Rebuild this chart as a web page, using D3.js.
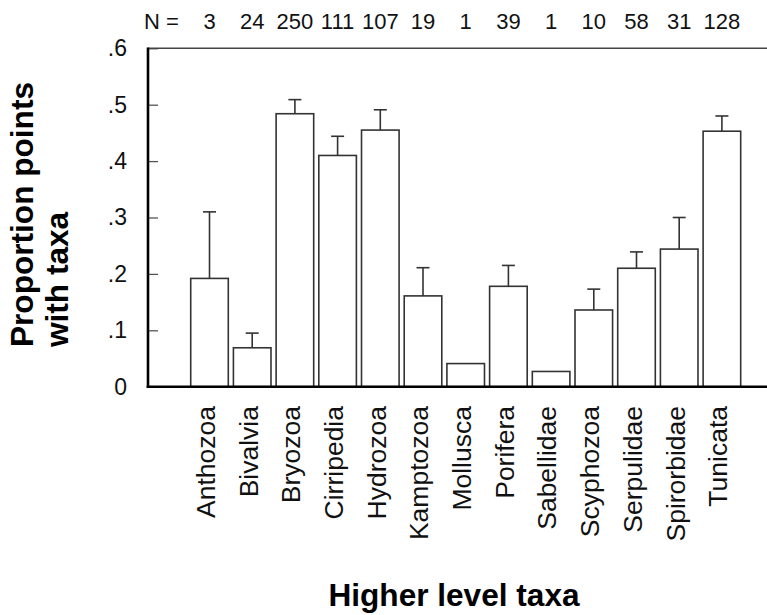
<!DOCTYPE html>
<html>
<head>
    <meta charset="utf-8">
    <script src="https://cdn.jsdelivr.net/npm/d3@7/dist/d3.min.js"></script>
    <style>
        body { margin: 0; background: #fff; }
        svg { font-family: Arial, "Liberation Sans", Helvetica, sans-serif; }
        .bar { fill: #fff; stroke: #333; stroke-width: 1.6px; }
        .err { stroke: #333; stroke-width: 1.6px; fill: none; }
        .title { font-weight: bold; font-size: 31.6px; fill: #000; }
    </style>
</head>
<body>
<div id="chart"></div>
<script>
    // values
    var taxa = ["Anthozoa", "Bivalvia", "Bryozoa", "Cirripedia", "Hydrozoa", "Kamptozoa",
        "Mollusca", "Porifera", "Sabellidae", "Scyphozoa", "Serpulidae", "Spirorbidae", "Tunicata"];
    var nCounts = [3, 24, 250, 111, 107, 19, 1, 39, 1, 10, 58, 31, 128];
    var proportion = [0.192, 0.069, 0.484, 0.410, 0.455, 0.161, 0.041, 0.178, 0.027, 0.136, 0.210, 0.244, 0.453];
    var upperError = [0.310, 0.095, 0.509, 0.444, 0.491, 0.211, null, 0.215, null, 0.173, 0.239, 0.300, 0.480];
    var yTicks = [0, 0.1, 0.2, 0.3, 0.4, 0.5, 0.6];

    var width = 767,
        height = 615;

    var svg = d3.select("#chart")
        .append("svg")
        .attr("width", width)
        .attr("height", height);

    // note: "top" is taken by window.top, so plotTop/plotBottom
    var plotLeft = 148, plotTop = 48.3, plotBottom = 386.7;

    var x = d3.scaleBand()
        .domain(taxa)
        .range([188.15, 743.25])
        .paddingInner(0.12)
        .paddingOuter(0.06);

    var y = d3.scaleLinear()
        .domain([0, 0.6])
        .range([plotBottom, plotTop]);

    var data = taxa.map(function(t, i) {
        return { taxon: t, n: nCounts[i], value: proportion[i], err: upperError[i] };
    });

    function cx(d) { return x(d.taxon) + x.bandwidth() / 2; }

    /* ------- Y AXIS (ticks inside) -------*/
    var yAxis = d3.axisLeft(y)
        .tickValues(yTicks)
        .tickSizeInner(-10)
        .tickSizeOuter(0)
        .tickPadding(21)
        .tickFormat(function(d) {
            return d === 0 ? "0" : d3.format(".1f")(d).replace(/^0/, "");
        });

    var ya = svg.append("g")
        .attr("transform", "translate(" + plotLeft + ",0)")
        .call(yAxis);
    ya.select(".domain").remove();
    ya.selectAll(".tick line").attr("stroke", "#555").attr("stroke-width", 1.3);
    ya.selectAll(".tick text")
        .attr("font-size", 23)
        .attr("font-family", "Arial, 'Liberation Sans', sans-serif")
        .attr("fill", "#111");

    /* ------- BARS -------*/
    svg.append("g").selectAll("rect")
        .data(data)
        .enter().append("rect")
        .attr("class", "bar")
        .attr("x", function(d) { return x(d.taxon); })
        .attr("width", x.bandwidth())
        .attr("y", function(d) { return y(d.value); })
        .attr("height", function(d) { return y(0) - y(d.value); });

    /* ------- ERROR BARS -------*/
    var withErr = data.filter(function(d) { return d.err !== null; });
    var eg = svg.append("g");
    eg.selectAll("line.stem")
        .data(withErr)
        .enter().append("line")
        .attr("class", "err stem")
        .attr("x1", cx)
        .attr("x2", cx)
        .attr("y1", function(d) { return y(d.value); })
        .attr("y2", function(d) { return y(d.err); });
    eg.selectAll("line.cap")
        .data(withErr)
        .enter().append("line")
        .attr("class", "err cap")
        .attr("x1", function(d) { return cx(d) - 6.5; })
        .attr("x2", function(d) { return cx(d) + 6.5; })
        .attr("y1", function(d) { return y(d.err); })
        .attr("y2", function(d) { return y(d.err); });

    /* ------- FRAME -------*/
    svg.append("line")
        .attr("x1", plotLeft).attr("x2", width)
        .attr("y1", plotTop).attr("y2", plotTop)
        .attr("stroke", "#444").attr("stroke-width", 1.6);
    svg.append("line")
        .attr("x1", plotLeft).attr("x2", plotLeft)
        .attr("y1", plotTop - 0.8).attr("y2", plotBottom + 1.2)
        .attr("stroke", "#000").attr("stroke-width", 2.6);
    svg.append("line")
        .attr("x1", plotLeft - 1.3).attr("x2", width)
        .attr("y1", y(0)).attr("y2", y(0))
        .attr("stroke", "#000").attr("stroke-width", 2.6);

    /* ------- N ROW -------*/
    svg.append("text")
        .attr("x", 144)
        .attr("y", 28.5)
        .attr("font-size", 22)
        .attr("fill", "#111")
        .text("N =");
    svg.append("g").selectAll("text")
        .data(data)
        .enter().append("text")
        .attr("x", cx)
        .attr("y", 28.5)
        .attr("text-anchor", "middle")
        .attr("font-size", 22)
        .attr("fill", "#111")
        .text(function(d) { return d.n; });

    /* ------- X LABELS -------*/
    svg.append("g").selectAll("text")
        .data(data)
        .enter().append("text")
        .attr("transform", function(d) {
            return "translate(" + cx(d) + ",406) rotate(-90)";
        })
        .attr("dy", "0.2em")
        .attr("text-anchor", "end")
        .attr("font-size", 26.5)
        .attr("fill", "#111")
        .text(function(d) { return d.taxon; });

    /* ------- TITLES -------*/
    svg.append("text")
        .attr("class", "title")
        .attr("transform", "translate(33,347) rotate(-90)")
        .attr("text-anchor", "start")
        .text("Proportion points");
    svg.append("text")
        .attr("class", "title")
        .attr("transform", "translate(68,347) rotate(-90)")
        .attr("text-anchor", "start")
        .text("with taxa");
    svg.append("text")
        .attr("class", "title")
        .attr("x", 454)
        .attr("y", 606)
        .attr("text-anchor", "middle")
        .text("Higher level taxa");
</script>
</body>
</html>
